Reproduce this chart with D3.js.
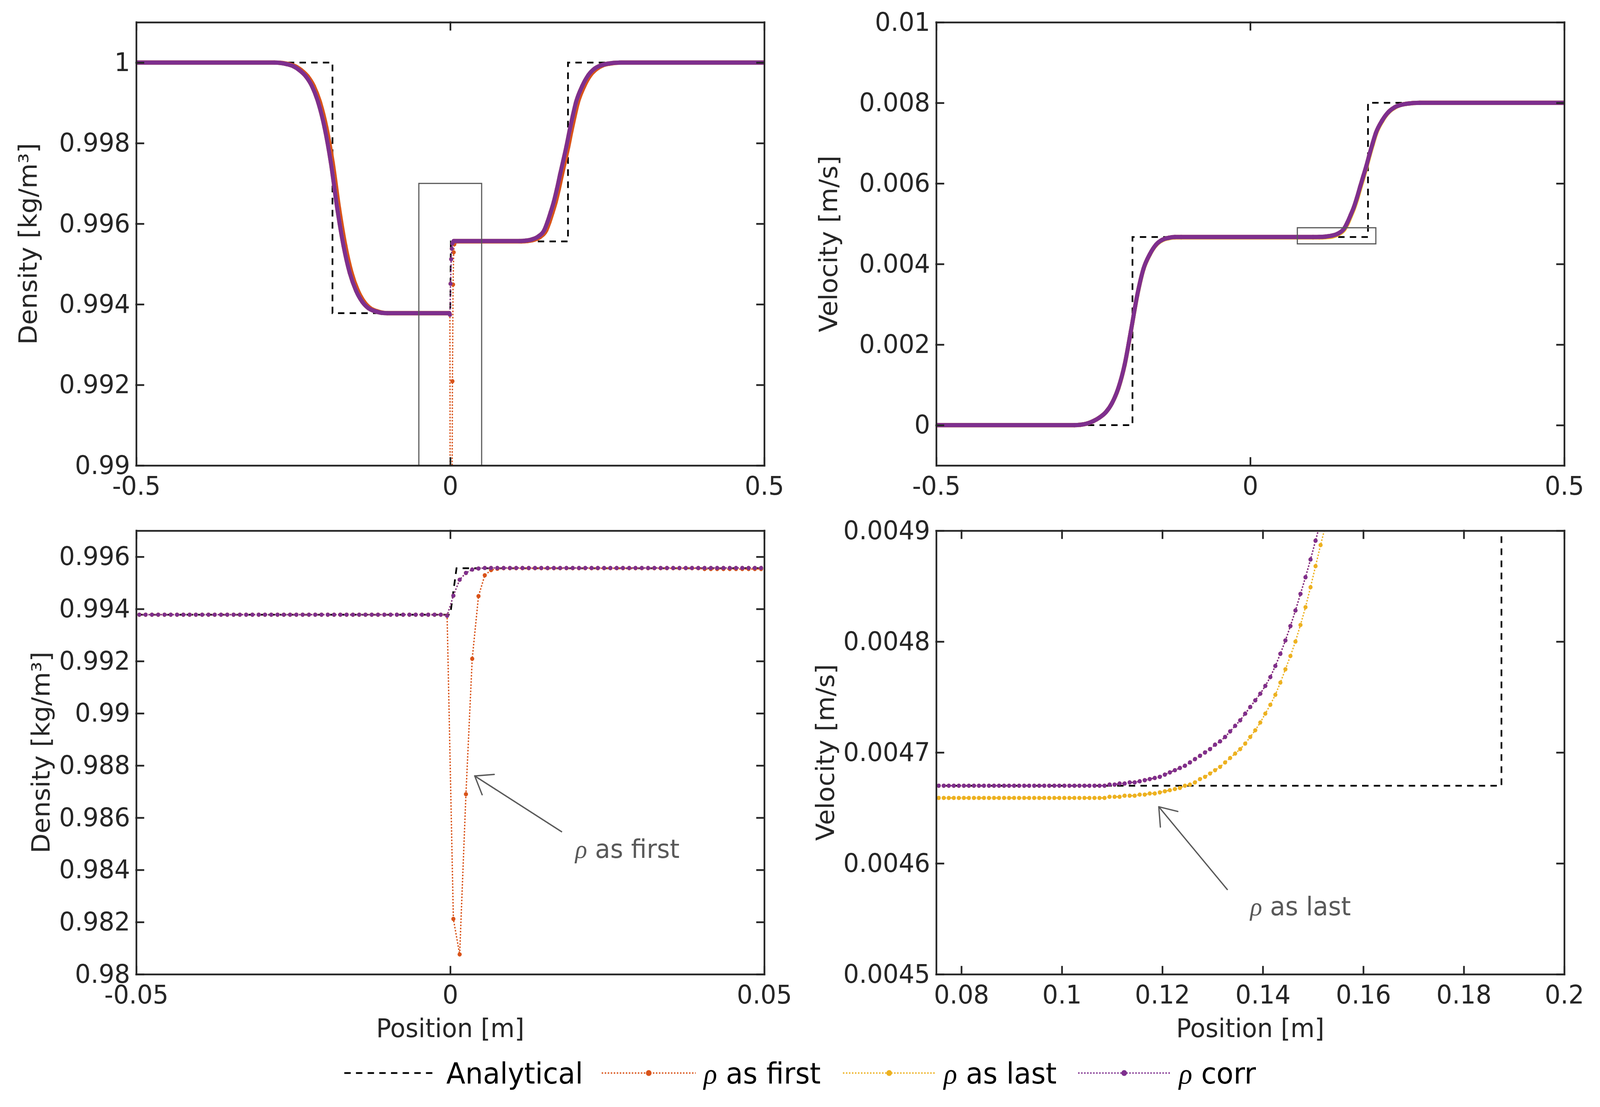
<!DOCTYPE html>
<html>
<head>
<meta charset="utf-8">
<script src="https://cdn.jsdelivr.net/npm/d3@7"></script>
<style>
  html, body { margin: 0; padding: 0; background: #fff; overflow: hidden; }
  svg { display: block; width: 100vw; height: 100vh; font-family: "DejaVu Sans", sans-serif; }
</style>
</head>
<body>
<svg id="fig" viewBox="0 0 4252 2835" preserveAspectRatio="none"></svg>
<script>
// ---------- data ----------
// analytical solution
const anaRhoX = [-0.5, -0.1875, -0.1875, 0, 0.001, 0.1875, 0.1875, 0.5]
const anaRho  = [1, 1, 0.99378, 0.99378, 0.99556, 0.99556, 1, 1]
const anaVelX = [-0.5, -0.1875, -0.1875, 0.1875, 0.1875, 0.5]
const anaVel  = [0, 0, 0.00467, 0.00467, 0.008, 0.008]

// full domain, density (rho corr, rho as last lies under it)
const rhoCorrX = [-0.5, -0.28, -0.27, -0.26, -0.25, -0.24, -0.23, -0.22, -0.21, -0.20,
  -0.19, -0.18, -0.17, -0.16, -0.15, -0.14, -0.13, -0.12, -0.11, -0.10,
  -0.0015, -0.0005, 0.0005, 0.0015, 0.0025, 0.0035, 0.0045, 0.0055,
  0.11, 0.12, 0.13, 0.14, 0.15, 0.155, 0.16, 0.165, 0.17, 0.175,
  0.18, 0.185, 0.19, 0.195, 0.20, 0.21, 0.22, 0.23, 0.24, 0.25, 0.27, 0.5]
const rhoCorr = [1, 1, 0.99999, 0.99996, 0.99991, 0.99981, 0.99966, 0.99941, 0.99900, 0.99838,
  0.99751, 0.99639, 0.99546, 0.99478, 0.99434, 0.99406, 0.99390, 0.99383, 0.99379, 0.99378,
  0.99378, 0.99374, 0.99451, 0.99512, 0.99538, 0.99551, 0.99555, 0.99557,
  0.99557, 0.99558, 0.99561, 0.99568, 0.99585, 0.99605, 0.99629, 0.99655, 0.99687, 0.99723,
  0.99757, 0.99792, 0.99831, 0.99867, 0.99900, 0.99941, 0.99969, 0.99985, 0.99993, 0.99997, 1, 1]

// full domain, density (rho as first)
const rhoFirstX = [-0.5, -0.28, -0.267, -0.257, -0.247, -0.237, -0.227, -0.217, -0.207, -0.197,
  -0.187, -0.177, -0.167, -0.157, -0.147, -0.137, -0.127, -0.117, -0.107, -0.097,
  -0.0015, -0.0005, 0.0005, 0.0015, 0.0025, 0.0035, 0.0045, 0.0055, 0.0065, 0.0075, 0.0085,
  0.113, 0.123, 0.133, 0.143, 0.153, 0.158, 0.163, 0.168, 0.173,
  0.178, 0.183, 0.188, 0.193, 0.198, 0.203, 0.213, 0.223, 0.233, 0.243, 0.253, 0.273, 0.5]
const rhoFirst = [1, 1, 0.99999, 0.99996, 0.99991, 0.99981, 0.99966, 0.99941, 0.99900, 0.99838,
  0.99751, 0.99639, 0.99546, 0.99478, 0.99434, 0.99406, 0.99390, 0.99383, 0.99379, 0.99378,
  0.99378, 0.99375, 0.98212, 0.98076, 0.98690, 0.99209, 0.99449, 0.99529, 0.99549, 0.99554, 0.99556,
  0.99556, 0.99557, 0.99560, 0.99567, 0.99584, 0.99604, 0.99628, 0.99654, 0.99686,
  0.99722, 0.99756, 0.99791, 0.99830, 0.99866, 0.99899, 0.99940, 0.99968, 0.99984, 0.99993, 0.99997, 1, 1]

// full domain, velocity (rho as first lies under rho corr)
const velX = [-0.5, -0.28, -0.27, -0.26, -0.25, -0.24, -0.23, -0.22, -0.21, -0.20,
  -0.19, -0.18, -0.17, -0.16, -0.15, -0.14, -0.13, -0.12, -0.11, 0.10,
  0.11, 0.12, 0.13, 0.14, 0.15, 0.155, 0.16, 0.165, 0.17, 0.175,
  0.18, 0.185, 0.19, 0.195, 0.20, 0.21, 0.22, 0.23, 0.24, 0.25, 0.27, 0.5]
const velCorr = [0, 0, 0.00001, 0.00004, 0.00010, 0.00019, 0.00032, 0.00055, 0.00092, 0.00150,
  0.00234, 0.00322, 0.00388, 0.00424, 0.00448, 0.00460, 0.00465, 0.00467, 0.00467, 0.00467,
  0.004671, 0.004680, 0.004704, 0.004756, 0.00489, 0.00504, 0.00522, 0.00541, 0.00565, 0.00592,
  0.00618, 0.00644, 0.00673, 0.00700, 0.00725, 0.00756, 0.00777, 0.00789, 0.00795, 0.00798, 0.008, 0.008]
const velLast = [0, 0, 0.00001, 0.00004, 0.00010, 0.00019, 0.00032, 0.00055, 0.00091, 0.00149,
  0.00233, 0.00321, 0.00387, 0.00423, 0.00447, 0.00459, 0.00464, 0.00466, 0.00466, 0.00466,
  0.004660, 0.004665, 0.004681, 0.004735, 0.00486, 0.00500, 0.00518, 0.00537, 0.00560, 0.00587,
  0.00613, 0.00640, 0.00669, 0.00696, 0.00722, 0.00754, 0.00776, 0.00788, 0.00795, 0.00798, 0.008, 0.008]

// zoom on the contact, cell centres -0.0495 ... 0.0495 (dx = 0.001)
const zoomRhoX = d3.range(100).map(i => +(-0.0495 + i * 0.001).toFixed(4))
const rhoFirstZoom = [
  0.99378, 0.99378, 0.99378, 0.99378, 0.99378, 0.99378, 0.99378, 0.99378, 0.99378, 0.99378,
  0.99378, 0.99378, 0.99378, 0.99378, 0.99378, 0.99378, 0.99378, 0.99378, 0.99378, 0.99378,
  0.99378, 0.99378, 0.99378, 0.99378, 0.99378, 0.99378, 0.99378, 0.99378, 0.99378, 0.99378,
  0.99378, 0.99378, 0.99378, 0.99378, 0.99378, 0.99378, 0.99378, 0.99378, 0.99378, 0.99378,
  0.99378, 0.99378, 0.99378, 0.99378, 0.99378, 0.99378, 0.99378, 0.99378, 0.99378, 0.99375,
  0.98212, 0.98076, 0.98690, 0.99209, 0.99449, 0.99529, 0.99549, 0.99554, 0.99556, 0.99556,
  0.99556, 0.99556, 0.99556, 0.99556, 0.99556, 0.99556, 0.99556, 0.99556, 0.99556, 0.99556,
  0.99556, 0.99556, 0.99556, 0.99556, 0.99556, 0.99556, 0.99556, 0.99556, 0.99556, 0.99556,
  0.99556, 0.99556, 0.99556, 0.99556, 0.99556, 0.99556, 0.99556, 0.99556, 0.99556, 0.99556,
  0.99553, 0.99553, 0.99553, 0.99553, 0.99553, 0.99553, 0.99553, 0.99553, 0.99553, 0.99553]
const rhoCorrZoom = [
  0.99378, 0.99378, 0.99378, 0.99378, 0.99378, 0.99378, 0.99378, 0.99378, 0.99378, 0.99378,
  0.99378, 0.99378, 0.99378, 0.99378, 0.99378, 0.99378, 0.99378, 0.99378, 0.99378, 0.99378,
  0.99378, 0.99378, 0.99378, 0.99378, 0.99378, 0.99378, 0.99378, 0.99378, 0.99378, 0.99378,
  0.99378, 0.99378, 0.99378, 0.99378, 0.99378, 0.99378, 0.99378, 0.99378, 0.99378, 0.99378,
  0.99378, 0.99378, 0.99378, 0.99378, 0.99378, 0.99378, 0.99378, 0.99378, 0.99378, 0.99374,
  0.99451, 0.99512, 0.99538, 0.99551, 0.99555, 0.99557, 0.99557, 0.99557, 0.99557, 0.99557,
  0.99557, 0.99557, 0.99557, 0.99557, 0.99557, 0.99557, 0.99557, 0.99557, 0.99557, 0.99557,
  0.99557, 0.99557, 0.99557, 0.99557, 0.99557, 0.99557, 0.99557, 0.99557, 0.99557, 0.99557,
  0.99557, 0.99557, 0.99557, 0.99557, 0.99557, 0.99557, 0.99557, 0.99557, 0.99557, 0.99557,
  0.99557, 0.99557, 0.99557, 0.99557, 0.99557, 0.99557, 0.99557, 0.99557, 0.99557, 0.99557]

// zoom on the right wave foot, cell centres 0.0755 ... 0.1525
const zoomVelX = d3.range(78).map(i => +(0.0755 + i * 0.001).toFixed(4))
const velCorrZoom = [
  0.00467, 0.00467, 0.00467, 0.00467, 0.00467, 0.00467, 0.00467, 0.00467, 0.00467, 0.00467,
  0.00467, 0.00467, 0.00467, 0.00467, 0.00467, 0.00467, 0.00467, 0.00467, 0.00467, 0.00467,
  0.00467, 0.00467, 0.00467, 0.00467, 0.00467, 0.00467, 0.00467, 0.00467, 0.00467, 0.00467,
  0.00467, 0.00467, 0.00467, 0.004670, 0.004671, 0.004671, 0.004672, 0.004672, 0.004673, 0.004673,
  0.004674, 0.004675, 0.004676, 0.004677, 0.004678, 0.004680, 0.004682, 0.004684, 0.004686, 0.004688,
  0.004691, 0.004694, 0.004697, 0.004700, 0.004703, 0.004707, 0.004710, 0.004714, 0.004719, 0.004724,
  0.004729, 0.004735, 0.004741, 0.004747, 0.004753, 0.004760, 0.004768, 0.004778, 0.004789, 0.004801,
  0.004814, 0.004828, 0.004843, 0.004858, 0.004874, 0.004891, 0.004908, 0.004926]
const velLastZoom = [
  0.004659, 0.004659, 0.004659, 0.004659, 0.004659, 0.004659, 0.004659, 0.004659, 0.004659, 0.004659,
  0.004659, 0.004659, 0.004659, 0.004659, 0.004659, 0.004659, 0.004659, 0.004659, 0.004659, 0.004659,
  0.004659, 0.004659, 0.004659, 0.004659, 0.004659, 0.004659, 0.004659, 0.004659, 0.004659, 0.004659,
  0.004659, 0.004659, 0.004659, 0.004659, 0.004660, 0.004660, 0.004660, 0.004661, 0.004661, 0.004661,
  0.004662, 0.004662, 0.004663, 0.004663, 0.004664, 0.004665, 0.004666, 0.004667, 0.004668, 0.004670,
  0.004671, 0.004673, 0.004676, 0.004678, 0.004681, 0.004684, 0.004687, 0.004691, 0.004695, 0.004699,
  0.004703, 0.004708, 0.004714, 0.004720, 0.004727, 0.004735, 0.004743, 0.004752, 0.004763, 0.004775,
  0.004787, 0.004800, 0.004815, 0.004831, 0.004849, 0.004868, 0.004887, 0.004905]

// ticks
const xTicksFull = [-0.5, 0, 0.5]
const xTicksRho = [-0.05, 0, 0.05]
const xTicksVel = [0.08, 0.1, 0.12, 0.14, 0.16, 0.18, 0.2]
const yTicksRhoFull = [0.99, 0.992, 0.994, 0.996, 0.998, 1]
const yTicksVelFull = [0, 0.002, 0.004, 0.006, 0.008, 0.01]
const yTicksRhoZoom = [0.98, 0.982, 0.984, 0.986, 0.988, 0.99, 0.992, 0.994, 0.996]
const yTicksVelZoom = [0.0045, 0.0046, 0.0047, 0.0048, 0.0049]

const legendLabels = ['Analytical', 'as first', 'as last', 'corr']

// ---------- style / layout ----------
const colFirst = '#D95319', colLast = '#EDB120', colCorr = '#7E2F8E'
const axisColor = '#262626', noteColor = '#595959'
const fontTick = 66, fontLegend = 74
const svg = d3.select('#fig')
const fmt = d => String(+d.toFixed(6))

// ---------- helpers ----------
function panel(p) {
  const x = d3.scaleLinear(p.xDomain, [p.left, p.right])
  const y = d3.scaleLinear(p.yDomain, [p.bottom, p.top])
  const g = svg.append('g')
  svg.append('clipPath').attr('id', 'clip-' + p.id)
    .append('rect')
      .attr('x', p.left).attr('y', p.top)
      .attr('width', p.right - p.left).attr('height', p.bottom - p.top)
  const plot = g.append('g').attr('clip-path', `url(#clip-${p.id})`)
  return {p, x, y, g, plot}
}

function drawAxes(P) {
  const {p, x, y, g} = P
  const styleAxis = sel => {
    sel.attr('font-size', fontTick).attr('font-family', '"DejaVu Sans", sans-serif')
    sel.selectAll('path, line').attr('stroke', axisColor).attr('stroke-width', 4.5)
      .attr('stroke-linecap', 'square')
    sel.selectAll('text').attr('fill', axisColor)
  }
  g.append('g').attr('transform', `translate(0,${p.bottom})`)
    .call(d3.axisBottom(x).tickValues(p.xTicks).tickFormat(fmt)
      .tickSizeInner(-19).tickSizeOuter(0).tickPadding(28))
    .call(styleAxis)
  g.append('g').attr('transform', `translate(0,${p.top})`)
    .call(d3.axisTop(x).tickValues(p.xTicks).tickFormat('')
      .tickSizeInner(-19).tickSizeOuter(0))
    .call(styleAxis)
  g.append('g').attr('transform', `translate(${p.left},0)`)
    .call(d3.axisLeft(y).tickValues(p.yTicks).tickFormat(fmt)
      .tickSizeInner(-19).tickSizeOuter(0).tickPadding(16))
    .call(styleAxis)
  g.append('g').attr('transform', `translate(${p.right},0)`)
    .call(d3.axisRight(y).tickValues(p.yTicks).tickFormat('')
      .tickSizeInner(-19).tickSizeOuter(0))
    .call(styleAxis)

  g.append('text')
    .attr('transform', `translate(${p.yLabelX},${(p.top + p.bottom) / 2}) rotate(-90)`)
    .attr('dy', '0.3em')
    .attr('text-anchor', 'middle')
    .attr('font-size', fontTick)
    .attr('fill', axisColor)
    .text(p.yLabel)
  if (p.xLabel) {
    g.append('text')
      .attr('x', (p.left + p.right) / 2).attr('y', 2656)
      .attr('text-anchor', 'middle')
      .attr('font-size', fontTick)
      .attr('fill', axisColor)
      .text(p.xLabel)
  }
}

function drawAnalytical(P, xs, ys) {
  const {x, y, plot} = P
  plot.append('path')
    .attr('d', d3.line().x(d => x(d[0])).y(d => y(d[1]))(xs.map((d, i) => [d, ys[i]])))
    .attr('fill', 'none').attr('stroke', '#000').attr('stroke-width', 4.5)
    .attr('stroke-dasharray', '17 14')
}

// dense mode: where points are further apart than one cell the markers merge
// into a solid band, drawn as a thick line
function drawSeries(P, xs, ys, color, dense) {
  const {x, y, plot} = P
  const pts = xs.map((d, i) => [d, ys[i]])
  const line = d3.line().x(d => x(d[0])).y(d => y(d[1]))
  if (dense) {
    const runs = []
    let cur = [pts[0]]
    for (let i = 1; i < pts.length; i++) {
      if (pts[i][0] - pts[i - 1][0] > 0.002) cur.push(pts[i])
      else { if (cur.length > 1) runs.push(cur); cur = [pts[i]] }
    }
    if (cur.length > 1) runs.push(cur)
    runs.forEach(r => {
      plot.append('path')
        .attr('d', line.curve(d3.curveMonotoneX)(r))
        .attr('fill', 'none').attr('stroke', color).attr('stroke-width', 11)
        .attr('stroke-linecap', 'round').attr('stroke-linejoin', 'round')
    })
    line.curve(d3.curveLinear)
  }
  plot.append('path')
    .attr('d', line(pts))
    .attr('fill', 'none').attr('stroke', color).attr('stroke-width', 3.5)
    .attr('stroke-dasharray', '4 4')
  plot.append('g').selectAll('circle')
    .data(pts)
    .join('circle')
      .attr('cx', d => x(d[0]))
      .attr('cy', d => y(d[1]))
      .attr('r', 5.5)
      .attr('fill', color)
}

function drawBox(P, x0, x1, y0, y1) {
  const {x, y, plot} = P
  plot.append('rect')
    .attr('x', x(x0)).attr('y', y(y1))
    .attr('width', x(x1) - x(x0)).attr('height', y(y0) - y(y1))
    .attr('fill', 'none').attr('stroke', noteColor).attr('stroke-width', 3)
}

function rhoText(sel, rest, color) {
  sel.append('tspan').attr('font-family', '"Liberation Serif", serif')
    .attr('font-style', 'italic').attr('fill', color).text('ρ')
  sel.append('tspan').attr('fill', color).text(' ' + rest)
}

function drawNote(P, tail, head, textPos, rest) {
  const {x, y, g} = P
  const tx = x(tail[0]), ty = y(tail[1]), hx = x(head[0]), hy = y(head[1])
  g.append('line').attr('x1', tx).attr('y1', ty).attr('x2', hx).attr('y2', hy)
    .attr('stroke', noteColor).attr('stroke-width', 3.5)
  const ang = Math.atan2(ty - hy, tx - hx)
  const len = 52, spread = 36 * Math.PI / 180
  ;[-spread, spread].forEach(s => {
    g.append('line')
      .attr('x1', hx).attr('y1', hy)
      .attr('x2', hx + len * Math.cos(ang + s)).attr('y2', hy + len * Math.sin(ang + s))
      .attr('stroke', noteColor).attr('stroke-width', 3.5).attr('stroke-linecap', 'round')
  })
  const t = g.append('text')
    .attr('x', x(textPos[0])).attr('y', y(textPos[1]))
    .attr('font-size', fontTick)
  rhoText(t, rest, noteColor)
}

// ---------- panels ----------
const tl = panel({id: 'tl', left: 362, right: 2031, top: 57, bottom: 1192,
  xDomain: [-0.5, 0.5], yDomain: [0.99, 1.001], xTicks: xTicksFull, yTicks: yTicksRhoFull,
  yLabel: 'Density [kg/m³]', yLabelX: 78})
const tr = panel({id: 'tr', left: 2488, right: 4157, top: 57, bottom: 1192,
  xDomain: [-0.5, 0.5], yDomain: [-0.001, 0.01], xTicks: xTicksFull, yTicks: yTicksVelFull,
  yLabel: 'Velocity [m/s]', yLabelX: 2205})
const bl = panel({id: 'bl', left: 362, right: 2031, top: 1359, bottom: 2495,
  xDomain: [-0.05, 0.05], yDomain: [0.98, 0.997], xTicks: xTicksRho, yTicks: yTicksRhoZoom,
  yLabel: 'Density [kg/m³]', yLabelX: 112, xLabel: 'Position [m]'})
const br = panel({id: 'br', left: 2488, right: 4157, top: 1359, bottom: 2495,
  xDomain: [0.075, 0.2], yDomain: [0.0045, 0.0049], xTicks: xTicksVel, yTicks: yTicksVelZoom,
  yLabel: 'Velocity [m/s]', yLabelX: 2197, xLabel: 'Position [m]'})

// top left: density
drawAnalytical(tl, anaRhoX, anaRho)
drawSeries(tl, rhoFirstX, rhoFirst, colFirst, true)
drawSeries(tl, rhoCorrX, rhoCorr, colLast, true)   // rho as last coincides with corr
drawSeries(tl, rhoCorrX, rhoCorr, colCorr, true)
drawBox(tl, -0.05, 0.05, 0.98, 0.997)

// top right: velocity
drawAnalytical(tr, anaVelX, anaVel)
drawSeries(tr, velX, velCorr, colFirst, true)      // rho as first coincides with corr
drawSeries(tr, velX, velLast, colLast, true)
drawSeries(tr, velX, velCorr, colCorr, true)
drawBox(tr, 0.075, 0.2, 0.0045, 0.0049)

// bottom left: density zoom
drawAnalytical(bl, anaRhoX, anaRho)
drawSeries(bl, zoomRhoX, rhoFirstZoom, colFirst, false)
drawSeries(bl, zoomRhoX, rhoCorrZoom, colLast, false)
drawSeries(bl, zoomRhoX, rhoCorrZoom, colCorr, false)

// bottom right: velocity zoom
drawAnalytical(br, anaVelX, anaVel)
drawSeries(br, zoomVelX, velCorrZoom, colFirst, false)
drawSeries(br, zoomVelX, velLastZoom, colLast, false)
drawSeries(br, zoomVelX, velCorrZoom, colCorr, false)

;[tl, tr, bl, br].forEach(drawAxes)

drawNote(bl, [0.0178, 0.98545], [0.0039, 0.9876], [0.0199, 0.98446], 'as first')
drawNote(br, [0.1330, 0.004576], [0.1193, 0.004651], [0.1375, 0.004553], 'as last')

// ---------- legend ----------
const legendY = 2748
const legendItems = [
  {x0: 915, x1: 1155, tx: 1186, color: '#000', dash: '17 14', marker: false, rho: false},
  {x0: 1599, x1: 1849, tx: 1870, color: colFirst, dash: '4 4', marker: true, rho: true},
  {x0: 2240, x1: 2486, tx: 2508, color: colLast, dash: '4 4', marker: true, rho: true},
  {x0: 2865, x1: 3110, tx: 3133, color: colCorr, dash: '4 4', marker: true, rho: true}
]
const legend = svg.append('g')
legendItems.forEach((d, i) => {
  legend.append('line')
    .attr('x1', d.x0).attr('x2', d.x1).attr('y1', legendY).attr('y2', legendY)
    .attr('stroke', d.color).attr('stroke-width', d.marker ? 3.5 : 4.5)
    .attr('stroke-dasharray', d.dash)
  if (d.marker) {
    legend.append('circle').attr('cx', (d.x0 + d.x1) / 2).attr('cy', legendY)
      .attr('r', 7.5).attr('fill', d.color)
  }
  const t = legend.append('text').attr('x', d.tx).attr('y', 2775)
    .attr('font-size', fontLegend)
  if (d.rho) rhoText(t, legendLabels[i], '#000')
  else t.attr('fill', '#000').text(legendLabels[i])
})
</script>
</body>
</html>
